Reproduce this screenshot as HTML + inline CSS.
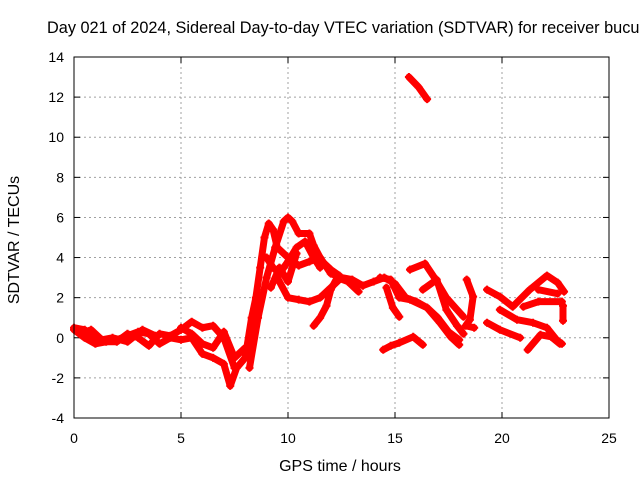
<!DOCTYPE html>
<html><head><meta charset="utf-8"><style>
body{margin:0;background:#fff}
svg{display:block;font-family:"Liberation Sans",sans-serif}
</style></head><body>
<svg id="c" width="640" height="480" xmlns="http://www.w3.org/2000/svg">
<rect width="640" height="480" fill="#fff"/>
<text x="47" y="33" font-size="16.3" fill="#000">Day 021 of 2024, Sidereal Day-to-day VTEC variation (SDTVAR) for receiver bucu</text>
<text x="340" y="471" font-size="16" text-anchor="middle">GPS time / hours</text>
<text transform="translate(19,240) rotate(-90)" font-size="16" text-anchor="middle">SDTVAR / TECUs</text>
<g id="grid"></g><g id="ticks"></g><g id="marks"></g>
<rect x="74" y="57" width="535" height="361" fill="none" stroke="#000" stroke-width="1"/>
</svg>
<script>
const xTicks=[0,5,10,15,20,25];
const yTicks=[-4,-2,0,2,4,6,8,10,12,14];
const trackT=[
[0,0.5,1,1.5,2,2.5,3,3.5,4,4.5,5,5.5,6,6.5,7,7.5],
[0,0.5,1,2,3,3.5,4,4.5,5,5.5,6,6.5,7,7.3,7.6,8,8.3,8.5,8.7,8.9,9.1,9.3,9.5,10,10.5,11,11.5,12,12.5,13,13.5,14,14.5,15,15.5,16,16.5,17,17.5,18],
[8.2,8.6,9,9.4,9.8,10,10.2,10.5,11,11.2,11.6,12,12.4],
[9.5,10,10.5,11,11.5,12,12.5,13,13.5],
[11.2,11.5,11.8,12,12.3,12.8,13.3],
[15.7,16.4,16.9,17.4,17.9,18.2],
[16.3,16.95,17.4,17.9,18.2],
[14.3,14.8,15.2,15.7,16.5,17.1,17.6,18.0],
[14.6,14.9,15.2],
[14.45,14.8,15.2,15.85,16.3],
[18.35,18.65,18.5,18.3,18.7],
[19.3,19.9,20.5,21.3,22.1,22.6,22.9],
[19.9,20.7,21.45,22.1,22.55,22.8],
[19.3,19.9,20.85],
[21.2,21.8,22.3,22.7],
[21.0,21.7,22.8],
[21.7,22.6],
[22.85,22.85],
[15.65,16.1,16.5],
[9.0,9.3,9.6,10,10.4,10.8,11.2,11.5],
[5,5.5,6,6.5,7,7.5,8],
[9.2,9.6,10,10.4],
[0.3,0.8,1.3,1.8,2.5,3.2,3.8]
];
const trackV=[
[0.5,0.4,0.0,-0.2,-0.2,0.2,0.0,-0.4,0.2,0.1,0.4,0.8,0.5,0.6,0.0,-1.5],
[0.4,0.0,-0.3,-0.1,0.3,0.2,-0.3,0.0,-0.1,0.0,-0.8,-1.0,-1.3,-2.4,-1.5,-1.0,1.0,2.0,3.5,5.0,5.7,5.4,4.5,4.0,3.6,3.8,4.0,3.2,3.0,2.8,2.6,2.8,3.0,2.7,2.0,1.8,1.5,1.0,0.3,-0.1],
[-1.5,1.0,3.0,4.5,5.8,6.0,5.8,5.2,5.2,4.6,3.8,3.4,3.1],
[3.0,2.0,1.9,1.8,2.0,2.5,3.0,2.9,2.6],
[0.6,1.0,1.6,2.4,3.0,2.8,2.3],
[3.4,3.7,2.9,2.0,1.4,1.05],
[2.4,2.9,1.4,0.6,0.2],
[3.0,2.9,2.0,1.9,1.5,0.75,0.05,-0.35],
[2.5,1.5,1.05],
[-0.6,-0.4,-0.25,0.05,-0.35],
[2.9,2.05,0.9,0.6,0.5],
[2.4,2.05,1.55,2.4,3.1,2.75,2.3],
[1.4,0.9,0.75,0.5,-0.1,-0.3],
[0.75,0.4,0.0],
[-0.6,0.15,0.05,-0.3],
[1.55,1.8,1.8],
[2.4,2.2],
[0.85,1.6],
[13.0,12.5,11.9],
[4.0,3.5,3.2,3.8,4.5,4.8,4.0,3.5],
[0.5,0.2,-0.3,-0.5,0.3,-1.0,-0.5],
[2.5,3.5,2.8,4.2],
[0.2,0.4,-0.1,0.0,-0.2,0.4,0.1]
];
const NS="http://www.w3.org/2000/svg";
const X=t=>74+(t-0)*535/25;
const Y=v=>418-(v+4)*361/18;
const grid=document.getElementById('grid'),ticks=document.getElementById('ticks'),marks=document.getElementById('marks');
function mk(tag,attrs,parent){const e=document.createElementNS(NS,tag);for(const k in attrs)e.setAttribute(k,attrs[k]);parent.appendChild(e);return e;}
xTicks.forEach(t=>{
  const x=X(t);
  if(t>0&&t<25){const g=mk('line',{x1:x,x2:x,y1:57,y2:418,stroke:'#a0a0a0','stroke-dasharray':'2,3'},grid);
  
  }
  const l=mk('text',{x:x,y:443,'font-size':14,'text-anchor':'middle'},ticks);l.textContent=t;
  
  
  mk('line',{x1:x,x2:x,y1:418,y2:412,stroke:'#000'},ticks);
  mk('line',{x1:x,x2:x,y1:57,y2:63,stroke:'#000'},ticks);
});
yTicks.forEach(v=>{
  const y=Y(v);
  if(v>-4&&v<14){const g=mk('line',{x1:74,x2:609,y1:y,y2:y,stroke:'#a0a0a0','stroke-dasharray':'2,3'},grid);
  
  }
  const l=mk('text',{x:64,y:y+5,'font-size':14,'text-anchor':'end'},ticks);l.textContent=v;
  
  
  mk('line',{x1:74,x2:80,y1:y,y2:y,stroke:'#000'},ticks);
  mk('line',{x1:609,x2:603,y1:y,y2:y,stroke:'#000'},ticks);
});
trackT.forEach((ts,i)=>{
  const vs=trackV[i];
  const pts=ts.map((t,j)=>X(t)+','+Y(vs[j])).join(' ');
  const pl=mk('polyline',{points:pts,fill:'none',stroke:'#ff0000','stroke-width':7,'stroke-linejoin':'round','stroke-linecap':'round'},marks);
  
  
  ts.forEach((t,j)=>{
    const x=X(t),y=Y(vs[j]);
    const p=mk('path',{d:`M${x-4},${y}H${x+4}M${x},${y-4}V${y+4}`,stroke:'#ff0000','stroke-width':2},marks);
    
    
  });
});
</script>
</body></html>
